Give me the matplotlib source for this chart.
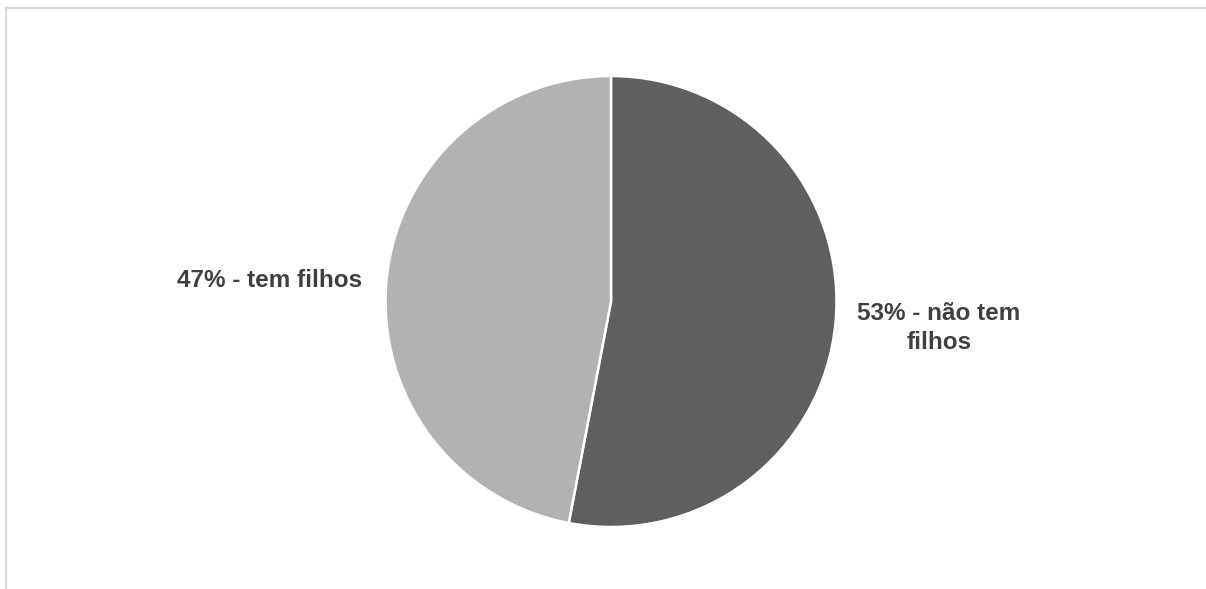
import matplotlib.pyplot as plt
from matplotlib.lines import Line2D

labels = ['53% - não tem\nfilhos', '47% - tem filhos']
values = [53, 47]
colors = ['#5f5f5f', '#b2b2b2']
label_pos = [(1.455, -0.118), (-1.512, 0.095)]

plt.rcParams['font.family'] = ['Liberation Sans', 'DejaVu Sans']

fig = plt.figure(figsize=(12.06, 5.89), dpi=100)
ax = fig.add_axes([385.5 / 1206, 62 / 589, 451 / 1206, 451 / 589])

ax.pie(values, colors=colors, startangle=90, counterclock=False, radius=1,
       wedgeprops={'edgecolor': 'white', 'linewidth': 1.8})
for lab, (x, y) in zip(labels, label_pos):
    ax.text(x, y, lab, ha='center', va='center', fontsize=17.5,
            fontweight='bold', color='#404040', linespacing=1.32, clip_on=False)
ax.set_xlim(-1, 1)
ax.set_ylim(-1, 1)
ax.axis('off')

# light frame of the chart area (top and left edges visible)
fig.add_artist(Line2D([6 / 1206, 1], [1 - 8 / 589, 1 - 8 / 589],
                      transform=fig.transFigure, color='#d9d9d9', linewidth=1.6))
fig.add_artist(Line2D([6 / 1206, 6 / 1206], [0, 1 - 8 / 589],
                      transform=fig.transFigure, color='#d9d9d9', linewidth=1.6))

fig.savefig('out.png', dpi=100, facecolor='white')
